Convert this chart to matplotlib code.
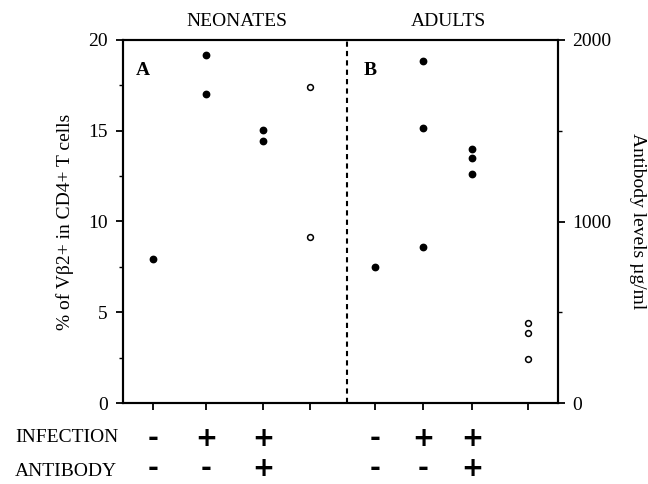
import matplotlib.pyplot as plt
from matplotlib.ticker import MultipleLocator
from matplotlib.transforms import blended_transform_factory

plt.rcParams['font.family'] = ['Liberation Serif', 'DejaVu Serif']

# Group positions along the x axis (8 groups, 4 neonates + 4 adults)
positions = [0.58, 1.6, 2.69, 3.6, 4.85, 5.77, 6.71, 7.79]
divider = 4.31

# % of Vb2+ in CD4+ T cells (filled dots, left axis)
pct_groups = [0, 1, 1, 2, 2, 4, 5, 5, 5, 6, 6, 6]
pct_values = [7.95, 19.2, 17.0, 15.05, 14.45, 7.5, 18.85, 15.15, 8.6, 14.0, 13.5, 12.6]

# Antibody levels ug/ml (open circles, right axis)
ab_groups = [3, 3, 7, 7, 7]
ab_values = [1740, 913, 439, 384, 241]

infection = ['-', '+', '+', '', '-', '+', '+', '']
antibody = ['-', '-', '+', '', '-', '-', '+', '']

fig = plt.figure(figsize=(6.48, 4.84), dpi=100)
ax = fig.add_axes([123 / 648, 81 / 484, 435 / 648, 363 / 484])
ax2 = ax.twinx()

ax.plot([positions[g] for g in pct_groups], pct_values, 'o', color='black',
        markersize=4.6, linestyle='none', clip_on=False)
ax2.plot([positions[g] for g in ab_groups], ab_values, 'o', markerfacecolor='white',
         markeredgecolor='black', markersize=4.2, markeredgewidth=1.1, linestyle='none')

ax.axvline(divider, color='black', linestyle=(0, (2.5, 2)), linewidth=1.5)

ax.set_xlim(0, 8.365)
ax.set_ylim(0, 20)
ax2.set_ylim(0, 2000)

ax.set_xticks(positions)
ax.set_xticklabels([])
ax.yaxis.set_major_locator(MultipleLocator(5))
ax.yaxis.set_minor_locator(MultipleLocator(2.5))
ax2.yaxis.set_major_locator(MultipleLocator(1000))
ax2.yaxis.set_minor_locator(MultipleLocator(500))

for a in (ax, ax2):
    for s in a.spines.values():
        s.set_linewidth(1.5)
    a.tick_params(which='major', length=5, width=1.3, labelsize=14, pad=6)
    a.tick_params(which='minor', length=3, width=1.0)
ax2.tick_params(which='major', pad=5)

ax.set_ylabel('% of V\u03b22+ in CD4+ T cells', fontsize=14, labelpad=10)
ax2.set_ylabel('Antibody levels \u00b5g/ml', fontsize=14, rotation=270, labelpad=25)

ax.text(0.045, 0.915, 'A', transform=ax.transAxes, fontsize=14, fontweight='bold',
        ha='center', va='center')
ax.text(0.568, 0.915, 'B', transform=ax.transAxes, fontsize=14, fontweight='bold',
        ha='center', va='center')

fig.text(237 / 648, 1 - 22 / 484, 'NEONATES', fontsize=14, ha='center', va='center')
fig.text(448 / 648, 1 - 22 / 484, 'ADULTS', fontsize=14, ha='center', va='center')

tr = blended_transform_factory(ax.transData, fig.transFigure)
fig.text(15 / 648, 1 - 438 / 484, 'INFECTION', fontsize=14, ha='left', va='center')
fig.text(15 / 648, 1 - 472 / 484, 'ANTIBODY', fontsize=14, ha='left', va='center')
for x, inf, anti in zip(positions, infection, antibody):
    for sign, yy in ((inf, 439), (anti, 469)):
        if sign:
            ax.text(x, 1 - yy / 484, sign, transform=tr, ha='center', va='center',
                    fontsize=19, family='DejaVu Sans', fontweight='bold')

fig.savefig('out.png', dpi=100)
